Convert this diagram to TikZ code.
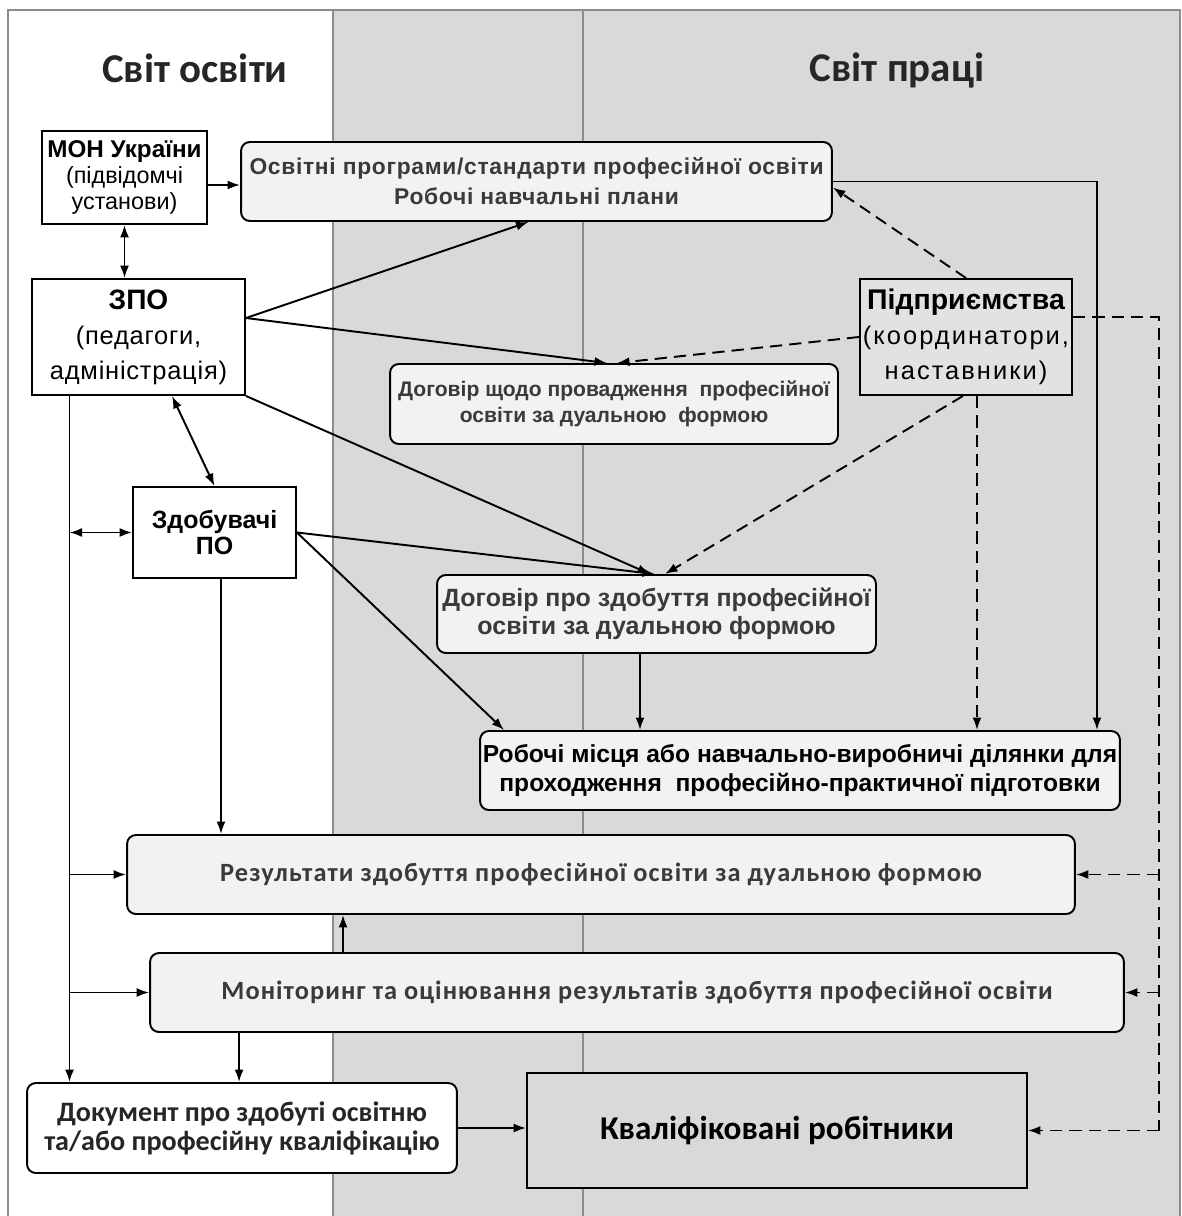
\documentclass[tikz,border=0pt]{standalone}
\usepackage{fontspec}
\setmainfont{Liberation Sans}
\newfontfamily\calfont{Carlito}
\newfontfamily\calspaced{Carlito}[LetterSpace=4]
\newfontfamily\boldspaced{Liberation Sans}[LetterSpace=3]
\newfontfamily\spacedfont{Liberation Sans}[LetterSpace=8]
\newfontfamily\lightspaced{Liberation Sans}[LetterSpace=3]
\usetikzlibrary{arrows.meta,calc}
\definecolor{bggray}{HTML}{D9D9D9}
\definecolor{boxfill}{HTML}{F2F2F2}
\definecolor{pidfill}{HTML}{E2E2E2}
\definecolor{txtgray}{HTML}{3A3A3A}
\definecolor{framegray}{HTML}{8C8C8C}
\newcommand{\fsz}[2]{\fontsize{#1}{#2}\selectfont}
\tikzset{
 conn/.style={line width=1.1pt, -{Latex[length=2.5mm,width=1.8mm]}},
 biconn/.style={line width=1.1pt, {Latex[length=2.5mm,width=1.8mm]}-{Latex[length=2.5mm,width=1.8mm]}},
 dconn/.style={conn, dash pattern=on 7pt off 4pt},
 dline/.style={line width=1.1pt, dash pattern=on 7pt off 4pt},
 sline/.style={line width=1.1pt},
 sqbox/.style={draw, line width=1.1pt, fill=white, align=center, inner sep=0pt},
 rbox/.style={draw, line width=1.1pt, rounded corners=5pt, fill=boxfill, align=center, inner sep=0pt, text=txtgray},
 title/.style={font=\calfont\bfseries\fsz{23.3}{26}, text=black!85},
 framel/.style={draw=framegray, line width=1.3pt},
}
\begin{document}
\begin{tikzpicture}[x=0.02cm,y=-0.02cm]
% background
\fill[white] (0,0) rectangle (1182,1216);
\useasboundingbox (0,0) rectangle (1182,1216);
\fill[bggray] (333,10) rectangle (1180,1216);
\draw[framel] (8,1216) -- (8,10) -- (1180,10) -- (1180,1216);
\draw[draw=framegray, line width=1pt] (333,10) -- (333,1216);
\draw[draw=framegray, line width=1pt] (583,10) -- (583,1216);
% titles
\node[title] (T1) at (195,68) {Світ освіти};
\node[title] (T2) at (897,70) {Світ праці};
% nodes
\node[sqbox, minimum width=3.30cm, minimum height=1.86cm, font=\fsz{13.3}{14.7}] (MON) at (124.5,177.5)
 {{\bfseries\fsz{13.8}{14.7}МОН України}\\(підвідомчі\\установи)};
\node[rbox, minimum width=11.82cm, minimum height=1.58cm, font=\boldspaced\bfseries\fsz{13}{17}] (Prog) at (536.5,181.5)
 {Освітні програми/стандарти професійної освіти\\Робочі навчальні плани};
\node[sqbox, minimum width=4.26cm, minimum height=2.32cm, font=\lightspaced\fsz{14.5}{20}] (ZPO) at (138.5,337)
 {{\normalfont\bfseries\fsz{16}{20}ЗПО}\\(педагоги,\\адміністрація)};
\node[sqbox, fill=pidfill, minimum width=4.24cm, minimum height=2.32cm, font=\spacedfont\fsz{14.5}{20}] (Pid) at (966,337)
 {{\normalfont\bfseries\fsz{16.2}{20}Підприємства}\\(координатори,\\наставники)};
\node[rbox, minimum width=8.96cm, minimum height=1.6cm, font=\bfseries\fsz{12}{14.7}] (DS) at (614,404)
 {Договір щодо провадження~ професійної\\освіти за дуальною~ формою};
\node[sqbox, minimum width=3.26cm, minimum height=1.82cm, font=\bfseries\fsz{14.2}{15}] (Zd) at (214.5,532.5)
 {Здобувачі\\ПО};
\node[rbox, minimum width=8.78cm, minimum height=1.56cm, font=\bfseries\fsz{14.2}{16}] (DP) at (656.5,614)
 {Договір про здобуття професійної\\освіти за дуальною формою};
\node[rbox, minimum width=12.8cm, minimum height=1.58cm, text=black, font=\bfseries\fsz{14}{16.5}] (RM) at (800,770.5)
 {Робочі місця або навчально-виробничі ділянки для\\проходження~ професійно-практичної підготовки};
\node[rbox, minimum width=18.96cm, minimum height=1.58cm, font=\calspaced\bfseries\fsz{15}{16}] (Rez) at (601,874.5)
 {Результати здобуття професійної освіти за дуальною формою};
\node[rbox, minimum width=19.48cm, minimum height=1.58cm, font=\calspaced\bfseries\fsz{15}{16}] (Mon) at (637,992.5)
 {Моніторинг та оцінювання результатів здобуття професійної освіти};
\node[rbox, fill=white, text=black!85, minimum width=8.6cm, minimum height=1.8cm, font=\calfont\bfseries\fsz{16}{16.5}] (Doc) at (242,1128)
 {Документ про здобуті освітню\\та/або професійну кваліфікацію};
\node[sqbox, fill=bggray, minimum width=10.0cm, minimum height=2.3cm, font=\calfont\bfseries\fsz{18.9}{20}] (Kv) at (777,1130.5)
 {Кваліфіковані робітники};
% helper coordinates
\coordinate (monE) at ([yshift=-0.15cm]MON.east);
\coordinate (zpoR) at ([yshift=0.38cm]ZPO.east);
\coordinate (zpoB) at ([xshift=-1.38cm]ZPO.south);
\coordinate (zpoS) at ([xshift=0.67cm]ZPO.south);
\coordinate (pidB) at ([xshift=0.22cm]Pid.south);
\coordinate (pidR) at ([yshift=0.4cm]Pid.east);
\coordinate (bus) at ([xshift=1.72cm]Pid.east);
\coordinate (progR) at ([xshift=5.94cm]RM.north);
\coordinate (dpB) at ([xshift=-0.33cm]DP.south);
\coordinate (zdB) at ([xshift=0.13cm]Zd.south);
\coordinate (monT) at ([xshift=-5.88cm]Mon.north);
\coordinate (monB) at ([xshift=-7.96cm]Mon.south);
% connectors
\draw[conn] (monE) -- (monE -| Prog.west);
\draw[biconn] (MON.south) -- (MON.south |- ZPO.north);
\draw[conn] (zpoR) -- ([xshift=-0.16cm]Prog.south);
\draw[conn] (zpoR) -- ([xshift=-0.14cm]DS.north);
\draw[dconn] (Pid.west) -- ([xshift=0.06cm]DS.north);
\draw[dconn] (Pid.north) -- ([yshift=-0.12cm]Prog.east);
\draw[conn] (Prog.east) -| (progR);
\draw[conn] (ZPO.south east) -- ([xshift=-0.13cm]DP.north);
\draw[dconn] ([xshift=-0.06cm]Pid.south) -- ([xshift=0.17cm]DP.north);
\draw[dconn] (pidB) -- (pidB |- RM.north);
\draw[dline] (pidR) -| (bus |- Kv.east);
\draw[dconn] (bus |- Kv.east) -- (Kv.east);
\draw[dconn] (bus |- Rez.east) -- (Rez.east);
\draw[dconn] (bus |- Mon.east) -- (Mon.east);
\draw[biconn] (zpoS) -- (Zd.north);
\draw[conn] (Zd.east) -- ([xshift=-0.03cm]DP.north);
\draw[conn] (Zd.east) -- ([xshift=0.5cm]RM.north west);
\draw[conn] (dpB) -- (dpB |- RM.north);
\draw[conn] (zdB) -- (zdB |- Rez.north);
\draw[sline] (zpoB) -- (zpoB |- Zd.west);
\draw[conn] (zpoB |- Zd.west) -- (zpoB |- Doc.north);
\draw[biconn] (zpoB |- Zd.west) -- (Zd.west);
\draw[conn] (zpoB |- Rez.west) -- (Rez.west);
\draw[conn] (zpoB |- Mon.west) -- (Mon.west);
\draw[conn] (monT) -- (monT |- Rez.south);
\draw[conn] (monB) -- (monB |- Doc.north);
\draw[conn] (Doc.east) -- (Kv.west |- Doc.east);
\end{tikzpicture}
\end{document}
